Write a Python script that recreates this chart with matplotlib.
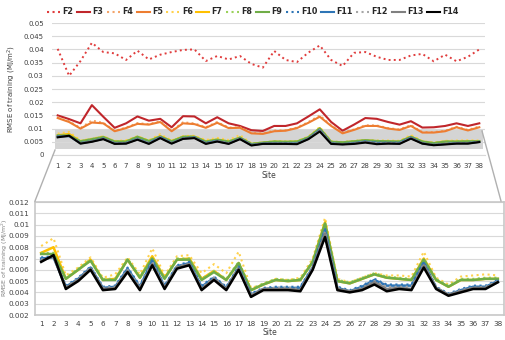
import numpy as np
import matplotlib.pyplot as plt
from matplotlib.lines import Line2D
from matplotlib.patches import Rectangle

# site numbers and RMSE of training for every model
sites = list(range(1, 39))
names = ["F2", "F3", "F4", "F5", "F6", "F7", "F8", "F9", "F10", "F11", "F12", "F13", "F14"]

F2 = [0.0402, 0.0300, 0.0356, 0.0425, 0.0390, 0.0385, 0.0360, 0.0395, 0.0362, 0.0380, 0.0390, 0.0398, 0.0400,
      0.0356, 0.0375, 0.0362, 0.0375, 0.0345, 0.0331, 0.0394, 0.0360, 0.0352, 0.0388, 0.0415, 0.0360, 0.0337,
      0.0387, 0.0390, 0.0372, 0.0360, 0.0360, 0.0377, 0.0383, 0.0355, 0.0380, 0.0355, 0.0372, 0.0400]
F3 = [0.0150, 0.0136, 0.0120, 0.0189, 0.0145, 0.0103, 0.0120, 0.0146, 0.0130, 0.0137, 0.0105, 0.0147, 0.0146,
      0.0120, 0.0143, 0.0120, 0.0110, 0.0094, 0.0091, 0.0110, 0.0110, 0.0120, 0.0146, 0.0173, 0.0125, 0.0092,
      0.0115, 0.0140, 0.0137, 0.0125, 0.0115, 0.0128, 0.0104, 0.0105, 0.0110, 0.0120, 0.0110, 0.0120]
F4 = [0.0143, 0.0128, 0.0102, 0.0131, 0.0122, 0.0092, 0.0104, 0.0121, 0.0117, 0.0128, 0.0092, 0.0124, 0.0120,
      0.0105, 0.0125, 0.0104, 0.0105, 0.0084, 0.0082, 0.0093, 0.0094, 0.0104, 0.0125, 0.0150, 0.0112, 0.0084,
      0.0097, 0.0113, 0.0112, 0.0102, 0.0097, 0.0113, 0.0087, 0.0087, 0.0092, 0.0107, 0.0095, 0.0108]
F5 = [0.0140, 0.0125, 0.0100, 0.0123, 0.0120, 0.0090, 0.0102, 0.0118, 0.0115, 0.0125, 0.0090, 0.0120, 0.0117,
      0.0103, 0.0122, 0.0102, 0.0103, 0.0082, 0.0080, 0.0090, 0.0092, 0.0102, 0.0122, 0.0145, 0.0110, 0.0082,
      0.0095, 0.0110, 0.0110, 0.0100, 0.0095, 0.0110, 0.0085, 0.0085, 0.0090, 0.0105, 0.0093, 0.0105]
F6 = [0.0081, 0.0088, 0.0055, 0.0062, 0.0071, 0.0053, 0.0056, 0.0071, 0.0056, 0.0079, 0.0055, 0.0072, 0.0073,
      0.0057, 0.0065, 0.0057, 0.0076, 0.0044, 0.0047, 0.0052, 0.0051, 0.0053, 0.0070, 0.0106, 0.0052, 0.0049,
      0.0053, 0.0057, 0.0055, 0.0055, 0.0054, 0.0076, 0.0053, 0.0047, 0.0054, 0.0055, 0.0056, 0.0055]
F7 = [0.0075, 0.0080, 0.0052, 0.0060, 0.0069, 0.0051, 0.0052, 0.0069, 0.0053, 0.0072, 0.0053, 0.0069, 0.0070,
      0.0052, 0.0059, 0.0051, 0.0066, 0.0042, 0.0047, 0.0051, 0.0050, 0.0051, 0.0067, 0.0102, 0.0050, 0.0048,
      0.0052, 0.0056, 0.0053, 0.0052, 0.0051, 0.0070, 0.0051, 0.0045, 0.0051, 0.0051, 0.0052, 0.0052]
F8 = [0.0075, 0.0075, 0.0053, 0.0061, 0.0069, 0.0052, 0.0052, 0.0070, 0.0054, 0.0071, 0.0053, 0.0070, 0.0070,
      0.0052, 0.0059, 0.0052, 0.0067, 0.0043, 0.0048, 0.0052, 0.0051, 0.0052, 0.0068, 0.0102, 0.0051, 0.0049,
      0.0053, 0.0057, 0.0054, 0.0053, 0.0052, 0.0070, 0.0052, 0.0046, 0.0052, 0.0052, 0.0053, 0.0053]
F9 = [0.0074, 0.0074, 0.0052, 0.0060, 0.0068, 0.0051, 0.0051, 0.0069, 0.0053, 0.0070, 0.0052, 0.0069, 0.0069,
      0.0051, 0.0058, 0.0051, 0.0066, 0.0042, 0.0047, 0.0051, 0.0050, 0.0051, 0.0067, 0.0101, 0.0050, 0.0048,
      0.0052, 0.0056, 0.0053, 0.0052, 0.0051, 0.0069, 0.0051, 0.0045, 0.0051, 0.0051, 0.0052, 0.0052]
F10 = [0.0071, 0.0072, 0.0046, 0.0053, 0.0063, 0.0045, 0.0046, 0.0062, 0.0046, 0.0069, 0.0046, 0.0064, 0.0067,
       0.0046, 0.0054, 0.0045, 0.0063, 0.0039, 0.0044, 0.0045, 0.0045, 0.0045, 0.0063, 0.0096, 0.0045, 0.0042,
       0.0046, 0.0052, 0.0047, 0.0047, 0.0047, 0.0067, 0.0045, 0.0039, 0.0043, 0.0046, 0.0046, 0.0051]
F11 = [0.0070, 0.0071, 0.0045, 0.0052, 0.0062, 0.0044, 0.0045, 0.0061, 0.0045, 0.0068, 0.0045, 0.0063, 0.0066,
       0.0045, 0.0053, 0.0044, 0.0062, 0.0038, 0.0043, 0.0044, 0.0044, 0.0044, 0.0062, 0.0095, 0.0044, 0.0041,
       0.0045, 0.0051, 0.0046, 0.0046, 0.0046, 0.0066, 0.0044, 0.0038, 0.0042, 0.0045, 0.0045, 0.0050]
F12 = [0.0069, 0.0071, 0.0045, 0.0052, 0.0062, 0.0044, 0.0045, 0.0060, 0.0045, 0.0067, 0.0045, 0.0063, 0.0065,
       0.0044, 0.0053, 0.0044, 0.0062, 0.0038, 0.0043, 0.0044, 0.0044, 0.0043, 0.0062, 0.0094, 0.0044, 0.0041,
       0.0044, 0.0050, 0.0045, 0.0045, 0.0045, 0.0065, 0.0044, 0.0038, 0.0042, 0.0044, 0.0045, 0.0050]
F13 = [0.0068, 0.0072, 0.0044, 0.0051, 0.0061, 0.0043, 0.0044, 0.0059, 0.0043, 0.0065, 0.0044, 0.0062, 0.0065,
       0.0043, 0.0052, 0.0043, 0.0061, 0.0037, 0.0043, 0.0043, 0.0043, 0.0042, 0.0061, 0.0092, 0.0043, 0.0041,
       0.0043, 0.0049, 0.0043, 0.0044, 0.0043, 0.0064, 0.0044, 0.0038, 0.0041, 0.0044, 0.0044, 0.0049]
F14 = [0.0067, 0.0073, 0.0043, 0.0050, 0.0060, 0.0042, 0.0043, 0.0058, 0.0042, 0.0064, 0.0043, 0.0061, 0.0064,
       0.0042, 0.0051, 0.0042, 0.0060, 0.0036, 0.0042, 0.0042, 0.0042, 0.0041, 0.0060, 0.0089, 0.0042, 0.0040,
       0.0042, 0.0047, 0.0041, 0.0043, 0.0042, 0.0062, 0.0043, 0.0037, 0.0040, 0.0043, 0.0043, 0.0049]

series = [F2, F3, F4, F5, F6, F7, F8, F9, F10, F11, F12, F13, F14]
colors = ["#e03c3c", "#c0262b", "#f4a46a", "#ed7d31", "#ffd24d", "#ffc000", "#9bd15a", "#70ad47",
          "#2e75b6", "#2e75b6", "#a6a6a6", "#808080", "#000000"]
styles = [":", "-", ":", "-", ":", "-", ":", "-", ":", "-", ":", "-", "-"]
zoomed = names[4:]  # F6..F14 shown in the lower panel

top_ticks = [0, 0.005, 0.01, 0.015, 0.02, 0.025, 0.03, 0.035, 0.04, 0.045, 0.05]
top_ticklabels = ["0", "0.005", "0.01", "0.015", "0.02", "0.025", "0.03", "0.035", "0.04", "0.045", "0.05"]
bot_ticks = [0.002, 0.003, 0.004, 0.005, 0.006, 0.007, 0.008, 0.009, 0.01, 0.011, 0.012]
bot_ticklabels = ["0.002", "0.003", "0.004", "0.005", "0.006", "0.007", "0.008", "0.009", "0.01", "0.011", "0.012"]
ylabel = "RMSE of training (MJ/m$^2$)"

W, H = 506, 340
fig = plt.figure(figsize=(W / 100, H / 100), dpi=100)

def px(x0, y0, x1, y1):
    # pixel box -> figure fraction rect
    return [x0 / W, 1 - y1 / H, (x1 - x0) / W, (y1 - y0) / H]

ax1 = fig.add_axes(px(52, 23, 485, 155))
ax2 = fig.add_axes(px(35, 202, 504, 315))

grid_c = "#d9d9d9"
txt_c = "#404040"

# top chart
for s, c, ls in zip(series, colors, styles):
    ax1.plot(sites, s, color=c, ls=ls, lw=1.5 if ls == "-" else 1.4)
ax1.add_patch(Rectangle((0.75, 0.0023), 37.6, 0.0072, facecolor="#d4d4d4", edgecolor="none", zorder=0.5))
ax1.set_xlim(0.5, 38.5)
ax1.set_ylim(0, 0.05)
ax1.set_yticks(top_ticks)
ax1.set_yticklabels(top_ticklabels)
ax1.set_xticks(sites)
ax1.grid(axis="y", color=grid_c, lw=0.8)
ax1.set_axisbelow(True)
for sp in ["top", "right", "left"]:
    ax1.spines[sp].set_visible(False)
ax1.spines["bottom"].set_color(grid_c)
ax1.tick_params(length=0, labelsize=5, colors=txt_c, pad=6)
ax1.set_xlabel("Site", fontsize=5.5, color=txt_c, labelpad=1)
ax1.set_ylabel(ylabel, fontsize=5, color=txt_c, labelpad=4)

# bottom chart
for n, s, c, ls in zip(names, series, colors, styles):
    if n in zoomed:
        ax2.plot(sites, s, color=c, ls=ls, lw=1.8 if ls == "-" else 1.5)
ax2.set_xlim(0.5, 38.5)
ax2.set_ylim(0.002, 0.012)
ax2.set_yticks(bot_ticks)
ax2.set_yticklabels(bot_ticklabels)
ax2.set_xticks(sites)
ax2.grid(axis="y", color=grid_c, lw=0.8)
ax2.set_axisbelow(True)
for sp in ax2.spines.values():
    sp.set_color("#c8c8c8")
    sp.set_linewidth(1.2)
ax2.tick_params(length=0, labelsize=5.2, colors=txt_c, pad=4)
ax2.set_xlabel("Site", fontsize=5.5, color=txt_c, labelpad=1)
fig.text(0.0, 1 - 258 / H, ylabel, rotation=90, fontsize=4.5, color="#808080", va="center", ha="left")

# zoom connector lines
fig.add_artist(Line2D([55 / W, 35 / W], [1 - 150 / H, 1 - 201 / H], color="#b0b0b0", lw=1.0))
fig.add_artist(Line2D([482 / W, 501 / W], [1 - 131 / H, 1 - 201 / H], color="#b0b0b0", lw=1.0))

# legend
handles = [Line2D([], [], color=c, ls=ls, lw=1.5) for c, ls in zip(colors, styles)]
fig.legend(handles, names, loc="center", bbox_to_anchor=(0.5, 1 - 12 / H), ncol=13, frameon=False,
           prop={"size": 5.8, "weight": "bold"}, handlelength=1.6, handletextpad=0.3, columnspacing=0.45,
           labelcolor="#262626")

fig.savefig("out.png", dpi=100)
